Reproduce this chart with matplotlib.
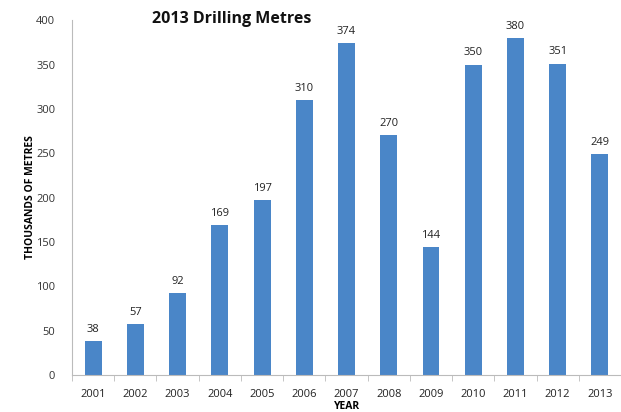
import numpy as np
import matplotlib
matplotlib.use("Agg")
from matplotlib import pyplot as plt

years = ["2001", "2002", "2003", "2004", "2005", "2006", "2007",
         "2008", "2009", "2010", "2011", "2012", "2013"]
metres = [38, 57, 92, 169, 197, 310, 374, 270, 144, 350, 380, 351, 249]
y_ticks = [0, 50, 100, 150, 200, 250, 300, 350, 400]

plt.rcParams['font.family'] = ['Open Sans', 'DejaVu Sans']

fig = plt.figure(figsize=(6.21, 4.12), dpi=100)
ax = fig.add_axes([0.116, 0.09, 0.884, 0.861])

x = np.arange(len(years))
ax.bar(x, metres, width=0.4, color='#4a86c8', zorder=2)
for xi, v in zip(x, metres):
    ax.text(xi, v + 7, str(v), ha='center', va='bottom', fontsize=8, color='#222222')

ax.set_xlim(-0.5, len(years) - 0.5)
ax.set_ylim(0, 400)
ax.set_yticks(y_ticks)
ax.set_xticks(x)
ax.set_xticklabels(years)
ax.set_xticks(np.arange(-0.5, len(years)), minor=True)
ax.tick_params(axis='x', which='major', length=0, labelsize=8, pad=10, colors='#222222')
ax.tick_params(axis='x', which='minor', length=4, color='#bbbbbb')
ax.tick_params(axis='y', length=0, labelsize=8, pad=12, colors='#333333')

for side in ['top', 'right']:
    ax.spines[side].set_visible(False)
ax.spines['left'].set_color('#bbbbbb')
ax.spines['bottom'].set_color('#bbbbbb')

ax.set_ylabel("THOUSANDS OF METRES", fontsize=7.5, fontweight='bold', labelpad=0)
ax.set_xlabel("YEAR", fontsize=7.5, fontweight='bold', labelpad=1)
fig.text(0.373, 0.955, "2013 Drilling Metres", ha='center', va='center',
         fontsize=11.5, fontweight='bold', color='#111111')

fig.savefig("out.png", dpi=100)
